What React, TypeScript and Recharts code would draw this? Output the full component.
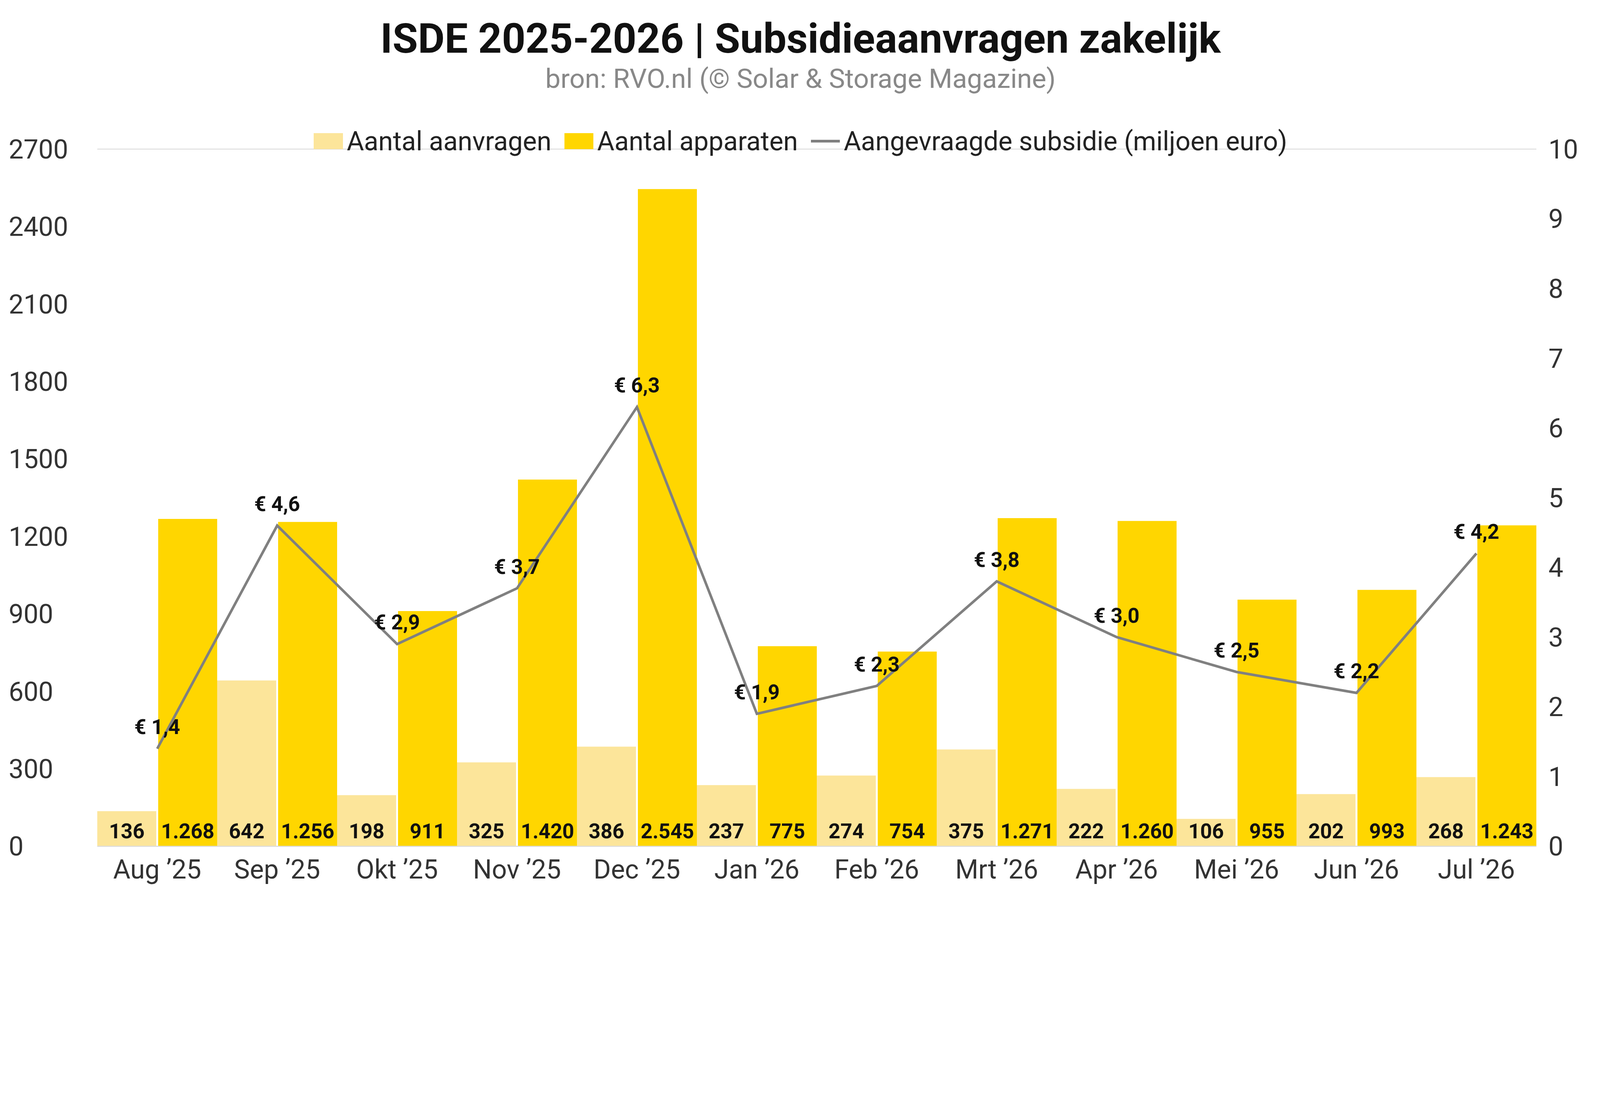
import React from "react";
import { Bar, CartesianGrid, ComposedChart, LabelList, Legend, Line, XAxis, YAxis } from "recharts";

const months = ["Aug ’25", "Sep ’25", "Okt ’25", "Nov ’25", "Dec ’25", "Jan ’26", "Feb ’26", "Mrt ’26", "Apr ’26", "Mei ’26", "Jun ’26", "Jul ’26"];
const aanvragen = [136, 642, 198, 325, 386, 237, 274, 375, 222, 106, 202, 268];
const apparaten = [1268, 1256, 911, 1420, 2545, 775, 754, 1271, 1260, 955, 993, 1243];
const subsidie = [1.4, 4.6, 2.9, 3.7, 6.3, 1.9, 2.3, 3.8, 3.0, 2.5, 2.2, 4.2];
const leftTicks = [0, 300, 600, 900, 1200, 1500, 1800, 2100, 2400, 2700];
const rightTicks = [0, 1, 2, 3, 4, 5, 6, 7, 8, 9, 10];

const data = months.map((m, i) => ({ m, a: aanvragen[i], b: apparaten[i], s: subsidie[i] }));

const LIGHT = "#FCE59A";
const DARK = "#FFD600";
const LINE = "#808080";
const FONT = "Roboto, 'Noto Sans', sans-serif";

// page is laid out in screenshot pixels; scale to CSS pixels of the viewport
const S = typeof window !== "undefined" && window.innerWidth ? window.innerWidth / 4962 : 1;
const k = (n: number) => n * S;

const fmtNum = (v: any) => Number(v).toLocaleString("de-DE");
const fmtEur = (v: any) => "€ " + Number(v).toFixed(1).replace(".", ",");

const LegendContent = () => (
  <div style={{ display: "flex", justifyContent: "center", alignItems: "center", fontSize: k(82), color: "#222", fontFamily: FONT, gap: k(40) }}>
    <span style={{ display: "flex", alignItems: "center" }}>
      <span style={{ width: k(90), height: k(50), background: LIGHT, marginRight: k(12) }} />Aantal aanvragen
    </span>
    <span style={{ display: "flex", alignItems: "center" }}>
      <span style={{ width: k(90), height: k(50), background: DARK, marginRight: k(12) }} />Aantal apparaten
    </span>
    <span style={{ display: "flex", alignItems: "center" }}>
      <span style={{ width: k(90), height: k(8), background: LINE, marginRight: k(12) }} />Aangevraagde subsidie (miljoen euro)
    </span>
  </div>
);

export default function App() {
  const W = k(4946);
  const H = k(2791);
  return (
    <div style={{ position: "relative", width: W, height: H, fontFamily: FONT, background: "#fff" }}>
      <div style={{ position: "absolute", top: k(35), width: "100%", textAlign: "center", fontSize: k(128), fontWeight: 700, color: "#111" }}>
        ISDE 2025-2026 | Subsidieaanvragen zakelijk
      </div>
      <div style={{ position: "absolute", top: k(185), width: "100%", textAlign: "center", fontSize: k(84), color: "#888" }}>
        bron: RVO.nl (© Solar &amp; Storage Magazine)
      </div>
      <div style={{ position: "absolute", top: 0, left: 0 }}>
        <ComposedChart width={W} height={H} data={data} margin={{ top: k(356), right: 0, bottom: 0, left: 0 }} barCategoryGap={0} barGap={k(6)}>
          <CartesianGrid vertical={false} stroke="#dcdcdc" strokeWidth={k(3)} />
          <XAxis dataKey="m" height={k(175)} tickLine={false} axisLine={{ stroke: "#dcdcdc", strokeWidth: k(3) }} tick={{ fontSize: k(82), fill: "#333" }} tickMargin={k(35)} />
          <YAxis yAxisId="l" width={k(292)} domain={[0, 2700]} ticks={leftTicks} tickLine={false} axisLine={false} tick={{ fontSize: k(82), fill: "#333", textAnchor: "start" }} dx={-k(265)} />
          <YAxis yAxisId="r" orientation="right" width={k(191)} domain={[0, 10]} ticks={rightTicks} tickLine={false} axisLine={false} tick={{ fontSize: k(82), fill: "#333" }} tickMargin={k(30)} />
          <Legend verticalAlign="top" content={<LegendContent />} wrapperStyle={{ top: k(380), left: 0, width: W }} />
          <Bar yAxisId="l" dataKey="a" fill={LIGHT} isAnimationActive={false}>
            <LabelList dataKey="a" position="insideBottom" offset={k(25)} formatter={fmtNum} style={{ fontSize: k(64), fontWeight: 700, fill: "#111" }} />
          </Bar>
          <Bar yAxisId="l" dataKey="b" fill={DARK} isAnimationActive={false}>
            <LabelList dataKey="b" position="insideBottom" offset={k(25)} formatter={fmtNum} style={{ fontSize: k(64), fontWeight: 700, fill: "#111" }} />
          </Bar>
          <Line yAxisId="r" dataKey="s" stroke={LINE} strokeWidth={k(8)} dot={false} isAnimationActive={false}>
            <LabelList dataKey="s" position="top" offset={k(45)} formatter={fmtEur} style={{ fontSize: k(64), fontWeight: 700, fill: "#111" }} />
          </Line>
        </ComposedChart>
      </div>
    </div>
  );
}
